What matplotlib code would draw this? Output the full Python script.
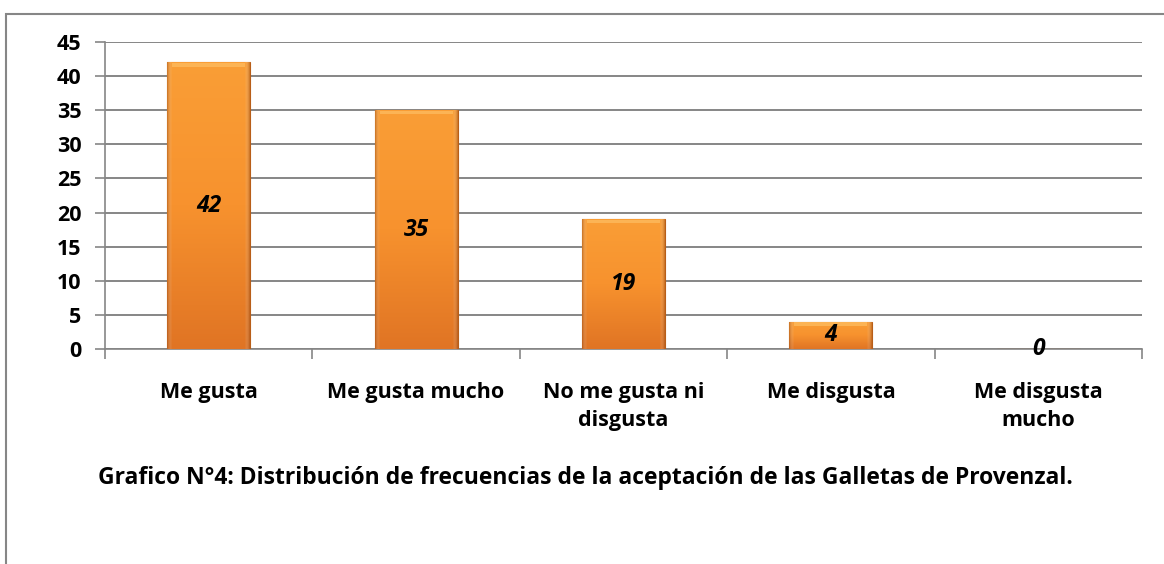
import matplotlib
matplotlib.use("Agg")
import matplotlib.pyplot as plt
import numpy as np
from matplotlib.colors import LinearSegmentedColormap
from matplotlib.patches import Rectangle

categories = ["Me gusta", "Me gusta mucho", "No me gusta ni\ndisgusta", "Me disgusta", "Me disgusta\nmucho"]
values = [42, 35, 19, 4, 0]
yticks = [0, 5, 10, 15, 20, 25, 30, 35, 40, 45]
title = "Grafico N°4: Distribución de frecuencias de la aceptación de las Galletas de Provenzal."

FONT = ["Open Sans", "DejaVu Sans"]
plt.rcParams['font.family'] = FONT
FS = 15.5

W, H = 1164, 564
fig = plt.figure(figsize=(W/100, H/100), dpi=100)
ax = fig.add_axes([105/W, 1-349/H, (1142-105)/W, (349-42)/H])

x = np.arange(len(categories))
bars = ax.bar(x, values, width=0.4, color="#F28B2A", edgecolor="#B85E18", linewidth=0.8, zorder=3)

vcmap = LinearSegmentedColormap.from_list("v", ["#E07424", "#F7922E", "#FA9E36"])
hcmap = LinearSegmentedColormap.from_list("h", [(0, (0.55, 0.25, 0.05, 0.45)), (0.06, (1, 1, 1, 0)),
                                                (0.94, (1, 1, 1, 0)), (1, (0.55, 0.25, 0.05, 0.45))])
vgrad = np.linspace(0, 1, 256).reshape(-1, 1)
hgrad = np.linspace(0, 1, 256).reshape(1, -1)
for b in bars:
    if b.get_height() <= 0:
        continue
    x0, w, h = b.get_x(), b.get_width(), b.get_height()
    im = ax.imshow(vgrad, extent=[x0, x0 + w, 0, h], origin="lower", aspect="auto", cmap=vcmap, zorder=3.5)
    im.set_clip_path(b)
    im2 = ax.imshow(hgrad, extent=[x0, x0 + w, 0, h], aspect="auto", cmap=hcmap, zorder=3.6)
    im2.set_clip_path(b)
    ax.add_patch(Rectangle((x0 + w*0.06, h - 0.6), w*0.88, 0.5, color="#FCB455", zorder=3.7, linewidth=0))

for xi, v in zip(x, values):
    ax.text(xi, v/2, str(v), ha="center", va="center", fontsize=16.5, fontweight="bold",
            fontstyle="italic", color="black", zorder=5)

ax.set_xlim(-0.5, len(categories) - 0.5)
ax.set_ylim(0, 45)
ax.set_yticks(yticks)
ax.set_yticklabels([str(t) for t in yticks], fontsize=FS, fontweight="bold")
ax.set_xticks(x)
ax.set_xticklabels(categories, fontsize=FS, fontweight="bold", linespacing=1.4)
ax.tick_params(axis="x", length=0, pad=24)
ax.set_xticks(np.arange(len(categories) + 1) - 0.5, minor=True)
ax.tick_params(axis="x", which="minor", length=7, color="#868686", width=1.2)
ax.tick_params(axis="y", length=7, color="#868686", width=1.2, pad=10)
ax.grid(axis="y", color="#868686", linewidth=1.4, zorder=0)
for s in ["top", "right"]:
    ax.spines[s].set_visible(False)
for s in ["left", "bottom"]:
    ax.spines[s].set_color("#868686")
    ax.spines[s].set_linewidth(1.2)

fig.text(585/W, 1-478/H, title, ha="center", va="center", fontsize=16.5, fontweight="bold")

# outer frame
fig.add_artist(Rectangle((6/W, -0.05), 1.05, 1-14/H + 0.05, transform=fig.transFigure,
                         fill=False, edgecolor="#868686", linewidth=1.5))

fig.savefig("out.png", dpi=100)
